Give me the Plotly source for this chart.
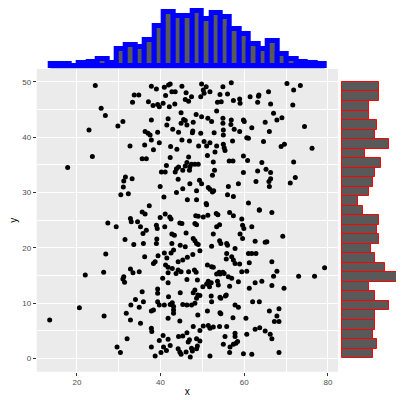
import numpy as np
import plotly.graph_objects as go

# scatter points (x, y)
points = [
  (24.4,49.3),(37.8,49.2),(39.0,48.7),(40.9,49.0),(41.9,49.4),(42.3,49.6),
  (33.7,47.6),(34.8,47.6),(33.3,46.3),(37.1,46.4),(38.2,45.7),(39.3,45.9),(39.7,45.5),(40.6,46.1),
  (42.1,45.5),(43.4,46.0),(41.2,47.5),(42.7,48.2),(43.5,48.2),
  (25.8,45.2),(26.8,43.9),(29.8,42.0),(31.0,42.8),(22.9,41.3),(37.8,43.1),(41.8,43.3),(41.5,42.2),
  (42.9,41.4),(44.3,40.9),(36.3,41.0),(37.0,40.7),(37.5,40.4),(39.3,40.9),(37.8,39.5),(39.7,39.0),
  (32.7,38.4),(36.2,38.6),(38.3,37.7),(42.4,38.3),(43.9,37.8),
  (23.7,36.5),(35.6,36.1),(36.6,36.1),(42.3,36.3),(41.4,34.9),(17.8,34.5),(43.8,34.3),(40.2,33.7),
  (41.1,33.7),(43.5,33.7),(44.3,34.6),(31.6,32.8),(31.2,32.1),(33.2,32.5),(44.2,32.4),(31.1,31.0),
  (39.9,31.1),(30.5,29.6),(32.3,29.8),(43.8,30.0),(40.8,29.2),(37.3,27.6),
  (45.1,49.2),(49.8,49.6),(50.9,49.1),(50.2,48.5),(50.4,47.9),(51.8,48.2),(54.9,49.1),(56.9,49.8),
  (56.0,47.8),(54.2,47.7),(46.1,48.0),(47.4,47.3),(45.9,46.8),(46.7,46.5),(49.6,47.3),(53.6,46.3),
  (54.5,46.4),(57.4,46.6),(58.9,46.9),(59.0,46.1),(61.4,47.3),(63.4,47.4),(63.5,47.6),(65.8,48.2),
  (63.2,46.3),(66.3,46.0),(70.2,49.7),(71.8,48.5),(73.4,49.3),(71.6,45.8),
  (53.4,44.7),(44.9,44.4),(45.5,43.2),(45.9,43.0),(44.9,42.5),(46.3,42.2),(48.5,44.1),(49.8,43.7),
  (51.3,43.4),(52.2,42.8),(47.8,42.7),(54.9,43.4),(54.9,42.5),(56.9,43.1),(56.8,42.3),(59.8,43.1),
  (60.0,42.8),(67.0,44.3),(67.8,43.1),(69.0,43.5),(65.0,42.7),(61.8,41.7),(57.6,41.4),(58.9,41.0),
  (55.0,41.3),(52.8,40.8),(49.6,40.7),(47.7,41.1),(47.6,40.8),(74.4,41.9),(66.0,41.0),(55.0,40.4),
  (45.1,39.5),(46.9,39.3),(60.6,39.9),(61.0,39.8),(57.2,39.3),(64.6,39.2),(50.4,39.2),(51.8,39.0),
  (53.4,38.4),(55.0,38.7),(55.2,38.1),(55.4,37.6),(49.1,38.4),(51.0,38.4),(69.6,38.7),(68.8,38.3),
  (76.2,38.0),(59.8,36.6),(60.8,35.8),(56.4,35.7),(57.3,35.7),(64.2,35.4),(71.8,35.5),(46.7,36.4),
  (51.2,36.7),(53.0,37.3),(52.6,35.5),(46.3,35.4),(47.4,35.1),(48.2,35.1),(49.0,35.1),(45.9,34.8),
  (47.0,34.6),(52.9,34.0),(46.9,34.0),(45.3,34.0),(59.8,33.6),(63.2,33.9),(65.2,34.2),(66.3,33.6),
  (62.8,32.0),(66.3,32.5),(65.9,32.0),(66.0,31.1),(72.2,32.7),(71.0,31.7),(52.4,33.1),(49.3,32.2),
  (49.8,31.6),(47.0,31.6),(45.3,30.7),(51.4,30.9),(51.8,30.6),(52.4,30.1),(52.7,30.3),(56.2,31.1),
  (58.6,31.6),(56.0,29.6),(57.4,29.3),(48.6,30.3),(46.4,28.7),(48.6,28.7),(50.9,28.0),(51.0,27.8),
  (61.0,28.1),(63.6,26.9),
  (35.6,26.5),(36.3,26.1),(32.8,25.3),(33.0,24.7),(34.5,24.7),(39.9,25.5),(41.1,26.1),(42.2,25.6),
  (42.5,25.2),(35.2,23.8),(36.6,23.2),(35.8,22.6),(27.4,24.5),(29.4,23.8),(39.0,24.1),(39.2,23.5),
  (41.0,23.8),(44.6,24.5),(42.7,22.5),(43.3,22.3),(31.5,21.5),(33.6,20.6),(35.9,20.8),(39.1,21.6),
  (39.0,20.8),(42.7,20.8),(43.1,19.6),(42.5,19.1),(26.9,18.9),(36.2,18.4),(39.4,18.6),(40.9,19.1),
  (41.5,18.2),(38.7,17.5),(38.3,17.2),(41.2,16.9),(41.8,16.5),(42.8,16.3),(44.2,17.5),(44.2,16.0),
  (43.7,15.4),(41.8,15.5),(22.0,15.1),(26.4,15.6),(32.8,16.2),(33.4,15.5),(34.9,15.7),(31.2,14.8),
  (31.0,14.4),(31.4,13.8),(40.5,14.5),(41.8,13.7),(35.6,12.1),(39.3,12.6),(39.3,11.8),(41.9,11.2),
  (44.7,11.9),(20.6,9.2),(34.0,10.7),(35.9,10.3),(32.9,9.7),(34.9,9.3),(31.8,8.2),(32.8,7.0),
  (26.5,7.7),(35.2,6.4),(39.3,10.3),(39.7,9.7),(38.3,8.8),(37.8,8.6),(40.9,9.7),(42.3,9.8),
  (42.8,10.1),(43.1,9.4),(43.1,8.8),(43.1,8.2),(41.8,7.3),(44.6,6.8),(13.5,7.0),(32.0,3.6),
  (37.8,5.5),(37.9,4.9),(39.7,3.3),(40.6,4.2),(41.8,3.5),(40.7,2.1),(41.4,1.5),(40.1,1.1),
  (38.7,0.5),(37.8,2.1),(29.6,2.1),(30.4,1.1),(42.3,2.4),(44.2,1.8),(44.6,1.2),(44.3,4.0),
  (50.2,25.6),(49.0,25.7),(48.4,25.8),(51.3,25.9),(53.3,26.2),(53.7,26.0),(56.5,26.4),(57.4,25.8),
  (59.4,25.2),(59.6,24.1),(59.9,23.5),(61.8,23.8),(63.6,26.8),(66.6,26.4),(48.2,24.4),(48.6,24.2),
  (45.1,24.4),(53.4,23.8),(54.1,24.2),(46.1,22.7),(52.6,22.5),(59.0,22.5),(59.6,21.7),(69.2,22.1),
  (47.8,21.7),(48.2,21.3),(48.6,20.8),(49.0,20.6),(54.1,21.3),(54.4,20.8),(55.8,20.8),(56.0,20.5),
  (62.6,21.2),(65.0,21.0),(65.4,21.1),(44.7,20.5),(45.9,20.2),(52.2,20.3),(49.4,19.5),(57.8,19.9),
  (55.8,19.0),(61.0,19.0),(61.8,19.0),(62.8,19.0),(47.7,18.8),(46.4,18.3),(45.3,17.8),(57.0,18.4),
  (57.4,17.8),(55.7,18.0),(57.8,17.2),(58.9,17.1),(61.2,17.3),(66.6,17.5),(51.2,16.9),(52.2,16.6),
  (52.6,16.5),(48.1,16.0),(46.7,15.7),(44.9,15.7),(54.0,15.6),(54.9,15.6),(55.2,15.4),(54.2,15.3),
  (53.4,15.3),(56.2,14.8),(57.0,14.5),(59.4,15.7),(60.6,15.8),(67.8,15.8),(67.0,14.9),(73.0,14.9),
  (76.8,14.9),(79.2,16.4),(48.5,15.6),(46.3,14.3),(48.8,14.2),(51.4,14.0),(52.1,13.7),(51.0,13.5),
  (53.6,14.0),(58.6,13.9),(62.6,13.7),(64.2,14.0),(66.6,13.2),(69.5,12.7),(61.2,12.7),(50.1,13.0),
  (51.7,13.0),(53.8,13.3),(56.5,13.1),(48.2,12.4),(47.8,11.9),(48.9,11.5),(49.4,11.4),(48.6,10.9),
  (52.1,11.3),(54.4,10.9),(54.2,11.1),(55.5,11.3),(55.7,11.5),(52.2,10.3),(48.2,10.0),(47.4,9.7),
  (45.3,9.8),(46.3,9.7),(57.8,9.7),(58.6,9.3),(62.0,10.3),(63.6,10.3),(66.0,8.6),(68.3,9.0),
  (51.2,8.6),(54.2,8.3),(54.4,8.1),(48.9,7.9),(57.3,7.4),(60.4,7.3),(67.8,7.7),(67.2,6.7),
  (68.3,6.7),(50.2,5.9),(51.4,6.0),(51.8,5.5),(52.6,5.7),(55.8,5.8),(54.1,5.8),(47.8,5.8),
  (49.4,5.1),(46.3,4.7),(45.3,4.1),(46.9,3.4),(46.6,3.0),(48.6,3.6),(49.4,3.2),(55.4,4.0),
  (57.8,4.6),(57.8,4.0),(60.6,4.4),(62.6,5.3),(63.7,5.6),(65.0,5.0),(66.2,4.4),(66.6,3.6),
  (55.0,2.6),(57.4,2.6),(56.6,2.1),(58.0,2.8),(58.4,3.1),(47.4,1.9),(48.6,1.8),(48.8,2.3),
  (47.6,1.4),(46.1,1.2),(44.9,0.8),(47.1,0.3),(51.8,0.5),(56.5,1.1),(59.8,0.9),(61.8,0.8),
  (68.3,1.1),
]

# marginal histogram of x (29 bins, left to right)
x_bin_start = 13.7
x_bin_width = 2.26
top_counts = [1, 1, 0, 2, 3, 5, 2, 13, 16, 14, 20, 30, 41, 38, 38,
              42, 36, 40, 37, 28, 24, 17, 13, 19, 9, 5, 3, 2, 1]

# marginal histogram of y (29 bins, bottom to top)
y_bin_start = 0.11
y_bin_width = 1.719
right_counts = [16, 18, 16, 17, 17, 24, 17, 14, 28, 22, 17, 15, 19, 18, 19,
                11, 8, 14, 16, 17, 20, 12, 24, 17, 18, 14, 14, 19, 19]

xs = [p[0] for p in points]
ys = [p[1] for p in points]
x_centers = x_bin_start + x_bin_width * (np.arange(len(top_counts)) + 0.5)
y_centers = y_bin_start + y_bin_width * (np.arange(len(right_counts)) + 0.5)

panel_bg = '#EBEBEB'
bar_fill = '#595959'
tick_col = '#4D4D4D'

fig = go.Figure()

fig.add_trace(go.Scatter(
  x=xs, y=ys, mode='markers',
  marker=dict(color='black', size=5, line=dict(width=0)),
  xaxis='x', yaxis='y', showlegend=False,
))

fig.add_trace(go.Bar(
  x=x_centers, y=top_counts, width=x_bin_width,
  marker=dict(color=bar_fill, line=dict(color='#0000FF', width=5)),
  xaxis='x2', yaxis='y2', showlegend=False,
))

fig.add_trace(go.Bar(
  x=right_counts, y=y_centers, width=y_bin_width, orientation='h',
  marker=dict(color=bar_fill, line=dict(color='#FF0000', width=1)),
  xaxis='x3', yaxis='y3', showlegend=False,
))

# grey ggplot panel behind the scatter
fig.add_shape(type='rect', xref='x domain', yref='y domain', x0=0, x1=1, y0=0, y1=1,
              fillcolor=panel_bg, line=dict(width=0), layer='below')
# blue outline along the base of the top histogram
fig.add_shape(type='line', xref='x2', yref='y2',
              x0=x_bin_start, x1=x_bin_start + x_bin_width * len(top_counts), y0=0, y1=0,
              line=dict(color='#0000FF', width=5), layer='below')

# the page body adds an 8px margin, so the figure is 8px smaller than the window
main_x = [0.0725, 0.8333]
main_y = [0.0722, 0.8444]

fig.update_layout(
  width=396, height=392,
  margin=dict(l=0, r=0, t=0, b=0, pad=0),
  paper_bgcolor='white', plot_bgcolor='white',
  font=dict(family='Liberation Sans, Arial, sans-serif', color='black'),
  bargap=0,
  xaxis=dict(
    domain=main_x, range=[10.4, 82.4], anchor='y', automargin=False,
    tickvals=[20, 40, 60, 80], ticks='outside', ticklen=3, tickcolor='#333333',
    tickfont=dict(size=8, color=tick_col),
    showgrid=True, gridcolor='white', gridwidth=1.1,
    minor=dict(tickvals=[10, 30, 50, 70], showgrid=True, gridcolor='white', gridwidth=0.5, ticks=''),
    zeroline=False, showline=False,
    title=dict(text='x', font=dict(size=10), standoff=1),
  ),
  yaxis=dict(
    domain=main_y, range=[-2.35, 52.3], anchor='x', automargin=False,
    tickvals=[0, 10, 20, 30, 40, 50], ticks='outside', ticklen=3, tickcolor='#333333',
    tickfont=dict(size=8, color=tick_col),
    showgrid=True, gridcolor='white', gridwidth=1.1,
    minor=dict(tickvals=[5, 15, 25, 35, 45], showgrid=True, gridcolor='white', gridwidth=0.5, ticks=''),
    zeroline=False, showline=False,
    title=dict(text='y', font=dict(size=10), standoff=2),
  ),
  xaxis2=dict(domain=main_x, matches='x', anchor='y2', visible=False),
  yaxis2=dict(domain=[0.8444, 1.0], range=[-2.44, 44.1], anchor='x2', visible=False),
  xaxis3=dict(domain=[0.8409, 1.0], range=[-0.5, 31.8], anchor='y3', visible=False),
  yaxis3=dict(domain=main_y, matches='y', anchor='x3', visible=False),
)

fig.write_html("out.html")
